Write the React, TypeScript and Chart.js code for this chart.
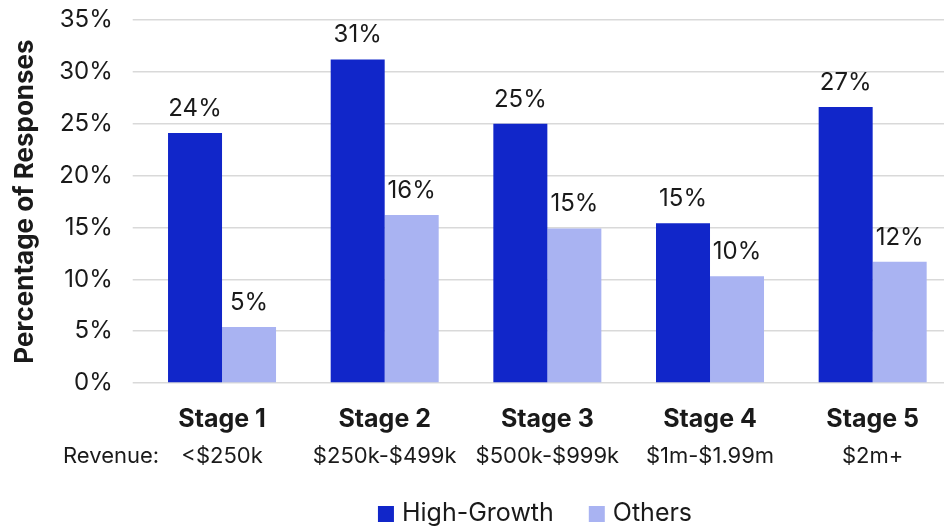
import React, { useEffect, useRef } from "react";
import { Chart, registerables } from "chart.js";

Chart.register(...registerables);

const stages = ["Stage 1", "Stage 2", "Stage 3", "Stage 4", "Stage 5"];
const revenues = ["<$250k", "$250k-$499k", "$500k-$999k", "$1m-$1.99m", "$2m+"];
const revenuePrefix = "Revenue:";
const highGrowth = [24.1, 31.2, 25.0, 15.4, 26.6];
const others = [5.4, 16.2, 14.9, 10.3, 11.7];
const seriesNames = ["High-Growth", "Others"];
const yAxisTitle = "Percentage of Responses";
const yMin = 0;
const yMax = 35;
const yStep = 5;

const FONT = "Inter, 'Noto Sans', sans-serif";
const TEXT = "#1a1a1a";
const HG_COLOR = "#1126c9";
const OT_COLOR = "#a9b3f2";

const labelsPlugin = {
  id: "customLabels",
  afterDatasetsDraw(chart: any) {
    const ctx = chart.ctx;
    ctx.save();
    ctx.fillStyle = TEXT;
    ctx.textAlign = "center";
    ctx.textBaseline = "alphabetic";
    ctx.font = `400 24px ${FONT}`;
    chart.data.datasets.forEach((ds: any, di: number) => {
      const meta = chart.getDatasetMeta(di);
      meta.data.forEach((bar: any, i: number) => {
        const v = ds.data[i];
        ctx.fillText(`${Math.round(v)}%`, bar.x, bar.y - 17);
      });
    });
    const xs = chart.scales.x;
    stages.forEach((s, i) => {
      const x = xs.getPixelForValue(i);
      ctx.font = `700 25px ${FONT}`;
      ctx.fillText(s, x, 427);
      ctx.font = `400 22px ${FONT}`;
      ctx.fillText(revenues[i], x, 463);
    });
    ctx.textAlign = "left";
    ctx.font = `400 22px ${FONT}`;
    ctx.fillText(revenuePrefix, 63, 463);

    // legend
    const colors = [HG_COLOR, OT_COLOR];
    ctx.font = `400 25px ${FONT}`;
    const box = 16;
    const textGap = 8;
    const itemGap = 35;
    const widths = seriesNames.map((n) => ctx.measureText(n).width);
    const total =
      widths.reduce((a, w) => a + box + textGap + w, 0) + itemGap * (seriesNames.length - 1);
    let x = 535 - total / 2;
    seriesNames.forEach((n, i) => {
      ctx.fillStyle = colors[i];
      ctx.fillRect(x, 506, box, box);
      ctx.fillStyle = TEXT;
      ctx.fillText(n, x + box + textGap, 521);
      x += box + textGap + widths[i] + itemGap;
    });
    ctx.restore();
  },
};

export default function App() {
  const ref = useRef<HTMLCanvasElement | null>(null);
  useEffect(() => {
    if (!ref.current) return;
    const chart = new Chart(ref.current, {
      type: "bar",
      data: {
        labels: stages,
        datasets: [
          {
            label: seriesNames[0],
            data: highGrowth,
            backgroundColor: HG_COLOR,
            borderWidth: 0,
            categoryPercentage: 0.664,
            barPercentage: 1.0,
          },
          {
            label: seriesNames[1],
            data: others,
            backgroundColor: OT_COLOR,
            borderWidth: 0,
            categoryPercentage: 0.664,
            barPercentage: 1.0,
          },
        ],
      },
      options: {
        responsive: false,
        animation: false,
        layout: { padding: { top: 20, left: 0, right: 6, bottom: 0 } },
        plugins: {
          tooltip: { enabled: false },
          legend: { display: false },
        },
        scales: {
          x: {
            grid: { display: false },
            border: { display: false },
            ticks: { display: false },
            afterFit: (scale: any) => {
              scale.height = 146;
              scale.paddingLeft = 0;
              scale.paddingRight = 0;
            },
          },
          y: {
            min: yMin,
            max: yMax,
            border: { display: false },
            grid: { color: "#d9d9d9", lineWidth: 1.5, tickLength: 8 },
            ticks: {
              stepSize: yStep,
              padding: 20,
              color: TEXT,
              font: { family: FONT, size: 24 },
              callback: (v: any) => `${v}%`,
            },
            title: {
              display: true,
              text: yAxisTitle,
              color: TEXT,
              font: { family: FONT, size: 26, weight: "bold" },
              padding: { top: 10, bottom: 0 },
            },
            afterFit: (scale: any) => {
              scale.width = 140.7;
              scale.paddingTop = 0;
              scale.paddingBottom = 0;
            },
          },
        },
      },
      plugins: [labelsPlugin],
    });
    return () => chart.destroy();
  }, []);
  return (
    <div
      style={{
        position: "fixed",
        left: 0,
        top: 0,
        width: 944,
        height: 529,
        overflow: "hidden",
        background: "#fff",
      }}
    >
      <canvas ref={ref} width={960} height={529} style={{ display: "block" }} />
    </div>
  );
}
